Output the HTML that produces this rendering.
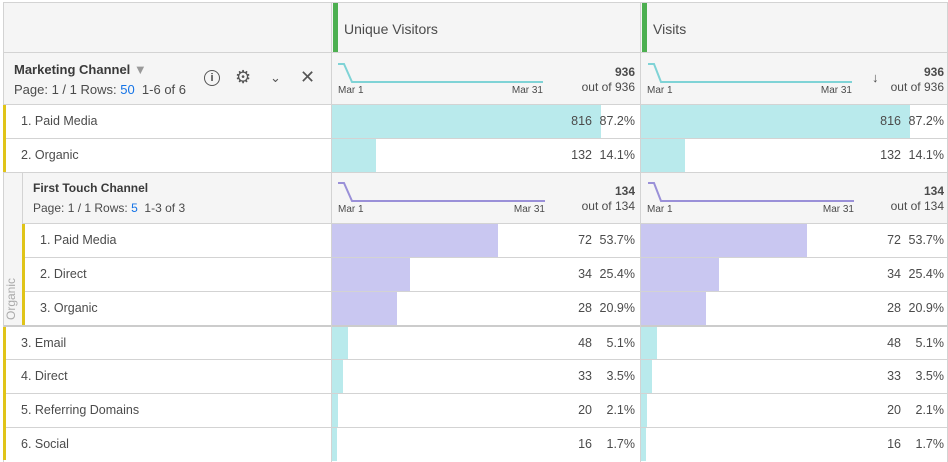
<!DOCTYPE html>
<html><head><style>
*{box-sizing:border-box;margin:0;padding:0}
body{width:948px;height:460px;background:#fff;font-family:"Liberation Sans",sans-serif;color:#4b4b4b;position:relative;overflow:hidden}
.a{position:absolute}
.t{font-size:13px;white-space:nowrap}
.hl{position:absolute;height:1px;background:#d3d3d3}
.vl{position:absolute;width:1px;background:#d3d3d3}
.r{text-align:right}
</style></head><body>
<div class="a" style="left:3px;top:3px;width:945px;height:101px;background:#f5f5f5"></div>
<div class="a" style="left:22px;top:172px;width:926px;height:51px;background:#f5f5f5"></div>
<div class="a" style="left:4px;top:172px;width:18px;height:153px;background:#f5f5f5"></div>
<div class="hl" style="left:3px;top:2px;width:945px"></div>
<div class="hl" style="left:3px;top:52px;width:945px"></div>
<div class="hl" style="left:3px;top:104px;width:945px"></div>
<div class="hl" style="left:3px;top:138px;width:945px"></div>
<div class="hl" style="left:3px;top:172px;width:945px"></div>
<div class="hl" style="left:22px;top:223px;width:926px"></div>
<div class="hl" style="left:22px;top:257px;width:926px"></div>
<div class="hl" style="left:22px;top:291px;width:926px"></div>
<div class="hl" style="left:3px;top:325px;width:945px;height:2px;background:#ccc"></div>
<div class="hl" style="left:3px;top:359px;width:945px"></div>
<div class="hl" style="left:3px;top:393px;width:945px"></div>
<div class="hl" style="left:3px;top:427px;width:945px"></div>
<div class="vl" style="left:3px;top:2px;height:460px"></div>
<div class="vl" style="left:22px;top:172px;height:153px"></div>
<div class="vl" style="left:331px;top:2px;height:460px"></div>
<div class="vl" style="left:640px;top:2px;height:460px"></div>
<div class="vl" style="left:947px;top:2px;height:460px"></div>
<div class="a" style="left:333px;top:3px;width:5px;height:49px;background:#4caf50"></div>
<div class="a" style="left:642px;top:3px;width:5px;height:49px;background:#4caf50"></div>
<div class="a t" style="left:344px;top:21px;font-size:14px">Unique Visitors</div>
<div class="a t" style="left:653px;top:21px;font-size:14px">Visits</div>
<div class="a t" style="left:14px;top:62px;font-weight:bold;color:#3a3a3a">Marketing Channel <span style="color:#999">&#9660;</span></div>
<div class="a t" style="left:14px;top:82px">Page: 1 / 1 Rows: <span style="color:#1473e6">50</span>&nbsp; 1-6 of 6</div>
<div class="a" style="left:204px;top:70px;width:16px;height:16px;border:1px solid #555;border-radius:50%;font-size:11px;text-align:center;line-height:14px;font-weight:bold">i</div>
<div class="a" style="left:235px;top:67px;font-size:18px;color:#555">&#9881;</div>
<div class="a" style="left:270px;top:70px;font-size:13px;color:#555">&#8964;</div>
<div class="a" style="left:300px;top:67px;font-size:18px;color:#555">&#10005;</div>
<svg class="a" style="left:0;top:0" width="948" height="460">
<polyline points="338,64 344,64 352,82 543,82" fill="none" stroke="#7fd3d6" stroke-width="2"/>
<polyline points="648,64 654,64 661,82 852,82" fill="none" stroke="#7fd3d6" stroke-width="2"/>
<polyline points="338,183 344,183 352,201 545,201" fill="none" stroke="#9a90d8" stroke-width="2"/>
<polyline points="648,183 654,183 661,201 854,201" fill="none" stroke="#9a90d8" stroke-width="2"/>
</svg>
<div class="a t" style="left:338px;top:85px;font-size:10px">Mar 1</div>
<div class="a t r" style="left:493px;top:85px;width:50px;font-size:10px">Mar 31</div>
<div class="a t" style="left:647px;top:85px;font-size:10px">Mar 1</div>
<div class="a t r" style="left:802px;top:85px;width:50px;font-size:10px">Mar 31</div>
<div class="a t r" style="left:560px;top:65px;width:75px;font-weight:bold;font-size:12px">936</div>
<div class="a t r" style="left:560px;top:80px;width:75px;font-size:12px">out of 936</div>
<div class="a t r" style="left:860px;top:65px;width:84px;font-weight:bold;font-size:12px">936</div>
<div class="a t r" style="left:860px;top:80px;width:84px;font-size:12px">out of 936</div>
<div class="a t" style="left:872px;top:70px;font-size:13px">&#8595;</div>
<div class="a t" style="left:338px;top:204px;font-size:10px">Mar 1</div>
<div class="a t r" style="left:495px;top:204px;width:50px;font-size:10px">Mar 31</div>
<div class="a t" style="left:647px;top:204px;font-size:10px">Mar 1</div>
<div class="a t r" style="left:804px;top:204px;width:50px;font-size:10px">Mar 31</div>
<div class="a t r" style="left:560px;top:184px;width:75px;font-weight:bold;font-size:12px">134</div>
<div class="a t r" style="left:560px;top:199px;width:75px;font-size:12px">out of 134</div>
<div class="a t r" style="left:860px;top:184px;width:84px;font-weight:bold;font-size:12px">134</div>
<div class="a t r" style="left:860px;top:199px;width:84px;font-size:12px">out of 134</div>
<div class="a t" style="left:33px;top:181px;font-weight:bold;color:#3a3a3a;font-size:12px">First Touch Channel</div>
<div class="a t" style="left:33px;top:201px;font-size:12px">Page: 1 / 1 Rows: <span style="color:#1473e6">5</span>&nbsp; 1-3 of 3</div>
<div class="a t" style="left:4px;width:40px;font-size:12px;color:#aaa;transform:rotate(-90deg);transform-origin:0 0;top:320px">Organic</div>
<div class="a" style="left:3px;top:105px;width:3px;height:67px;background:#e0c418"></div>
<div class="a" style="left:22px;top:224px;width:3px;height:101px;background:#e0c418"></div>
<div class="a" style="left:3px;top:327px;width:3px;height:133px;background:#e0c418"></div>
<div id="rows"></div>
<script>
var rows=[
[105,33,"1. Paid Media",816,"87.2%",.872,14,0],
[139,33,"2. Organic",132,"14.1%",.141,14,0],
[224,33,"1. Paid Media",72,"53.7%",.537,40,1],
[258,33,"2. Direct",34,"25.4%",.254,40,1],
[292,33,"3. Organic",28,"20.9%",.209,40,1],
[327,32,"3. Email",48,"5.1%",.051,14,0],
[360,33,"4. Direct",33,"3.5%",.035,14,0],
[394,33,"5. Referring Domains",20,"2.1%",.021,14,0],
[428,33,"6. Social",16,"1.7%",.017,14,0]];
var h="";
rows.forEach(function(r){
var c=r[7]?"#c9c7f1":"#b9eaec";var w=Math.round(r[5]*309);
[332,641].forEach(function(x){
h+='<div class="a" style="left:'+x+'px;top:'+r[0]+'px;width:'+w+'px;height:'+r[1]+'px;background:'+c+'"></div>';
});
var ty=r[0]+9;
h+='<div class="a t" style="left:'+(r[6]+7-(r[7]?7:0))+'px;top:'+ty+'px;font-size:12.5px">'+r[2]+'</div>';
h+='<div class="a t r" style="left:542px;top:'+ty+'px;width:50px;font-size:12.5px">'+r[3]+'</div>';
h+='<div class="a t r" style="left:595px;top:'+ty+'px;width:40px;font-size:12.5px">'+r[4]+'</div>';
h+='<div class="a t r" style="left:851px;top:'+ty+'px;width:50px;font-size:12.5px">'+r[3]+'</div>';
h+='<div class="a t r" style="left:904px;top:'+ty+'px;width:40px;font-size:12.5px">'+r[4]+'</div>';
});
document.getElementById("rows").innerHTML=h;
</script>
</body></html>
